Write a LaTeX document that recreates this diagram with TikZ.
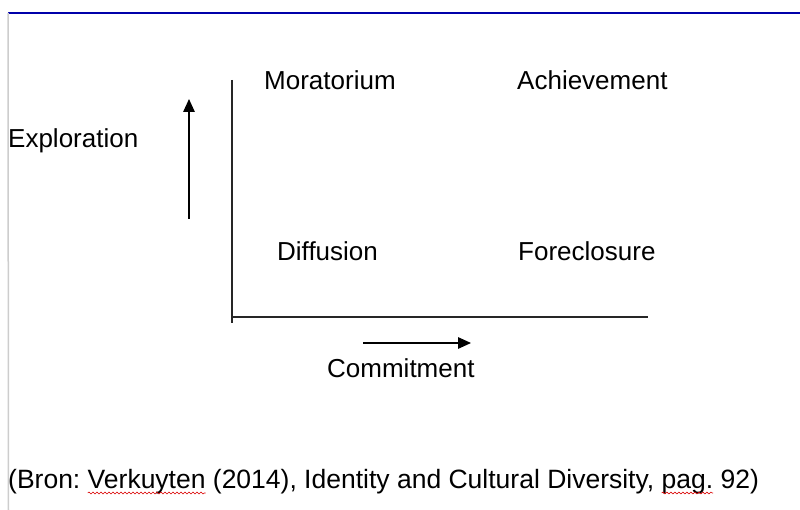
\documentclass[tikz,border=0pt]{standalone}
\usepackage{fontspec}
\setmainfont{Liberation Sans}
\usetikzlibrary{arrows.meta,decorations.pathmorphing}

\definecolor{rulerBlue}{RGB}{0,0,170}
\definecolor{marginGrey}{RGB}{205,205,205}

\tikzset{
    label/.style={anchor=base west,inner sep=0pt,font=\fontsize{26}{31}\selectfont},
    source/.style={label,font=\fontsize{26.5}{32}\selectfont\frenchspacing},
    axis/.style={line width=1.4pt,black!85},
    trend/.style={line width=1.4pt,-{Triangle[length=13pt,width=11.5pt]}},
    spell/.style={red!85!black,line width=0.6pt,decorate,decoration={snake,amplitude=0.9pt,segment length=4pt}}
}

\newcommand{\spellword}[1]{\tikz[baseline=(sw.base)]{\node[inner sep=0pt,outer sep=0pt] (sw) {#1}; \draw[spell,overlay] ([yshift=-5pt]sw.base west) -- ([yshift=-5pt]sw.base east);}}

\begin{document}
\begin{tikzpicture}[x=1pt,y=-1pt]
    \useasboundingbox (0,0) rectangle (800,510);

    \coordinate (rulerLeft) at (8,13);
    \coordinate (rulerRight) at (800,13);
    \coordinate (marginBottom) at (8.5,510);

    \coordinate (exploreAxisTop) at (232,80);
    \coordinate (exploreAxisFoot) at (232,323);
    \coordinate (commitAxisStart) at (231,317);
    \coordinate (commitAxisEnd) at (648,317);

    \coordinate (exploreFrom) at (189,219);
    \coordinate (exploreTo) at (189,99);
    \coordinate (commitFrom) at (363,343);
    \coordinate (commitTo) at (471,343);

    \draw[rulerBlue,line width=2pt] (rulerLeft) -- (rulerRight);
    \draw[marginGrey,line width=1.5pt] (rulerLeft) -- (marginBottom);

    \draw[axis] (exploreAxisTop) -- (exploreAxisFoot);
    \draw[axis] (commitAxisStart) -- (commitAxisEnd);

    \draw[trend] (exploreFrom) -- (exploreTo);
    \draw[trend] (commitFrom) -- (commitTo);

    \node[label] (explorationLabel) at (8,148) {Exploration};
    \node[label] (commitmentLabel) at (327,377) {Commitment};

    \node[label] (moratoriumNode) at (264,90) {Moratorium};
    \node[label] (achievementNode) at (517,90) {Achievement};
    \node[label] (diffusionNode) at (277,261) {Diffusion};
    \node[label] (foreclosureNode) at (518,261) {Foreclosure};

    \node[source] (sourceNode) at (8,488) {(Bron: \spellword{Verkuyten} (2014), Identity and Cultural Diversity, \spellword{pag.} 92)};

\end{tikzpicture}
\end{document}
